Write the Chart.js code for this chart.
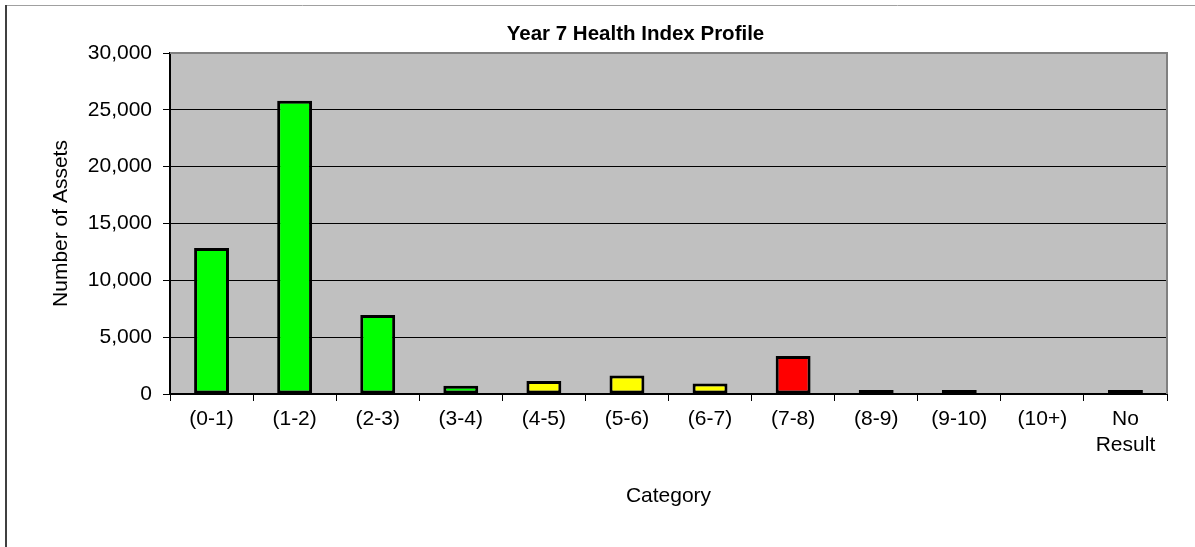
<!DOCTYPE html>
<html>
<head>
<meta charset="utf-8">
<title>Year 7 Health Index Profile</title>
<script src="https://cdn.jsdelivr.net/npm/chart.js@4.4.1/dist/chart.umd.min.js"></script>
<style>
  html, body { margin: 0; padding: 0; background: #fff; }
  #wrap { position: relative; width: 1195px; height: 547px; }
</style>
</head>
<body>
<div id="wrap"><canvas id="chart-health"></canvas></div>
<script>
// Health index bands (x axis)
const categories = ['(0-1)', '(1-2)', '(2-3)', '(3-4)', '(4-5)', '(5-6)', '(6-7)', '(7-8)', '(8-9)', '(9-10)', '(10+)', ['No', 'Result']];
// Number of assets in each band
const assetCounts = [12850, 25800, 6950, 730, 1150, 1620, 920, 3350, 60, 60, 0, 60];
// Fill per band: green = good, yellow = watch, red = poor
const bandColors = ['#00ff00', '#00ff00', '#00ff00', '#00ff00', '#ffff00', '#ffff00', '#ffff00',
                    '#ff0000', '#ff0000', '#ff0000', '#ff0000', '#ffffff'];
// Y axis ticks
const yTicks = [0, 5000, 10000, 15000, 20000, 25000, 30000];

const chartTitle = 'Year 7 Health Index Profile';
const xTitle = 'Category';
const yTitle = 'Number of Assets';

const FONT = '"Liberation Sans", Arial, sans-serif';

// Grey plot background, grey top/right frame, page edges and the title
const plotFrame = {
  id: 'plotFrame',
  beforeDraw(chart) {
    const { ctx, chartArea: a } = chart;
    ctx.save();
    ctx.fillStyle = '#c0c0c0';
    ctx.fillRect(a.left, a.top, a.right - a.left, a.bottom - a.top);
    ctx.restore();
  },
  afterDraw(chart) {
    const { ctx, chartArea: a, width, height } = chart;
    ctx.save();
    ctx.strokeStyle = '#808080';
    ctx.lineWidth = 2;
    ctx.beginPath();
    ctx.moveTo(a.left, a.top);
    ctx.lineTo(a.right, a.top);
    ctx.lineTo(a.right, a.bottom);
    ctx.stroke();

    // page edges
    ctx.strokeStyle = '#a0a0a0';
    ctx.lineWidth = 1;
    ctx.beginPath();
    ctx.moveTo(5, 5.5);
    ctx.lineTo(width, 5.5);
    ctx.stroke();
    ctx.strokeStyle = '#404040';
    ctx.lineWidth = 2;
    ctx.beginPath();
    ctx.moveTo(6, 5);
    ctx.lineTo(6, height);
    ctx.stroke();

    // chart title
    ctx.fillStyle = '#000';
    ctx.font = 'bold 20.5px ' + FONT;
    ctx.textAlign = 'center';
    ctx.textBaseline = 'middle';
    ctx.fillText(chartTitle, 635.5, 34);
    ctx.restore();
  }
};

const ctx = document.getElementById('chart-health').getContext('2d');
new Chart(ctx, {
  type: 'bar',
  data: {
    labels: categories,
    datasets: [{
      label: yTitle,
      data: assetCounts,
      backgroundColor: c => c.raw > 0 ? bandColors[c.dataIndex] : 'transparent',
      borderColor: '#000',
      borderWidth: c => c.raw > 0 ? 3 : 0,
      borderSkipped: false,
      barPercentage: 0.42,
      categoryPercentage: 1,
      minBarLength: 4
    }]
  },
  options: {
    responsive: true,
    maintainAspectRatio: false,
    animation: false,
    layout: { padding: { top: 53, right: 28, bottom: 0, left: 0 } },
    plugins: {
      legend: { display: false },
      tooltip: { enabled: false },
      title: { display: false }
    },
    scales: {
      x: {
        afterFit: s => { s.height = 153; },
        grid: { display: true, drawOnChartArea: false, drawTicks: true, tickLength: 7, color: '#000', lineWidth: 1 },
        border: { display: true, color: '#000', width: 2 },
        ticks: { color: '#000', padding: 6, maxRotation: 0, autoSkip: false, font: { family: FONT, size: 21, lineHeight: 1.2 } },
        title: { display: true, text: xTitle, color: '#000', font: { family: FONT, size: 21 }, padding: { top: 0, bottom: 38 } }
      },
      y: {
        min: 0,
        max: 30000,
        afterFit: s => { s.width = 170; },
        afterBuildTicks: s => { s.ticks = yTicks.map(v => ({ value: v })); },
        grid: { color: '#000', lineWidth: 1, tickLength: 7 },
        border: { display: true, color: '#000', width: 2 },
        ticks: { color: '#000', padding: 11, font: { family: FONT, size: 21 } },
        title: { display: true, text: yTitle, color: '#000', font: { family: FONT, size: 21 }, padding: { top: 49, bottom: 0 } }
      }
    }
  },
  plugins: [plotFrame]
});
</script>
</body>
</html>
